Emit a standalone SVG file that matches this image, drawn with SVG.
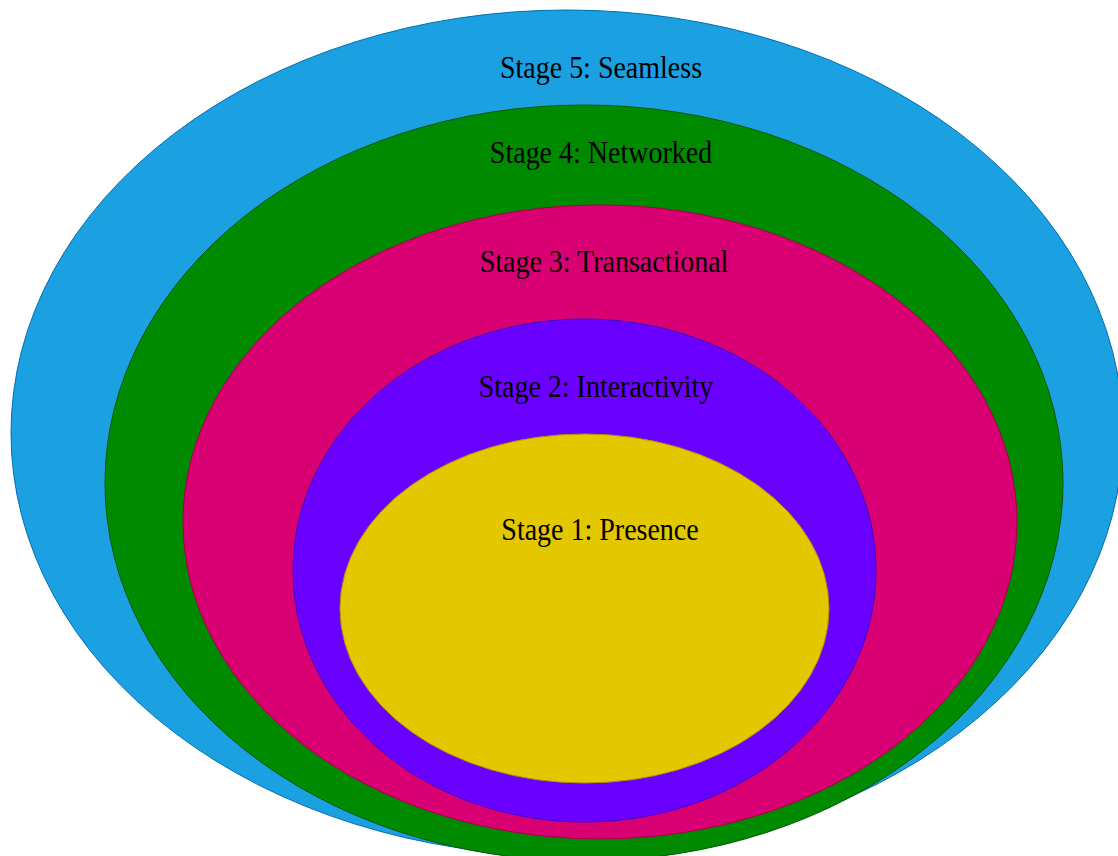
<svg xmlns="http://www.w3.org/2000/svg" width="1118" height="856" viewBox="0 0 1118 856">
  <style>
    .stage { stroke-width: 1; }
    .label { font-family: "Liberation Serif", "Times New Roman", serif; font-size: 28px; fill: #000000; text-anchor: middle; }
  </style>
  <rect x="0" y="0" width="1118" height="856" fill="#ffffff"/>
  <!-- Nested stages, outermost first -->
  <g id="stage5">
    <ellipse class="stage" cx="567" cy="433" rx="556" ry="423" fill="#1ba1e2" stroke="#006eaf"/>
    <text class="label" transform="translate(601,78) scale(1,1.13)">Stage 5: Seamless</text>
  </g>
  <g id="stage4">
    <ellipse class="stage" cx="584" cy="483" rx="479" ry="378" fill="#008a00" stroke="#005700"/>
    <text class="label" transform="translate(601,163) scale(1,1.13)">Stage 4: Networked</text>
  </g>
  <g id="stage3">
    <ellipse class="stage" cx="600" cy="522" rx="417" ry="317" fill="#d80073" stroke="#a50040"/>
    <text class="label" transform="translate(604,272) scale(1,1.13)">Stage 3: Transactional</text>
  </g>
  <g id="stage2">
    <ellipse class="stage" cx="584.5" cy="570.5" rx="291.5" ry="251.5" fill="#6a00ff" stroke="#3700cc"/>
    <text class="label" transform="translate(596,397) scale(1,1.13)">Stage 2: Interactivity</text>
  </g>
  <g id="stage1">
    <ellipse class="stage" cx="584.5" cy="608.5" rx="244.5" ry="174.5" fill="#e3c800" stroke="#b09500"/>
    <text class="label" transform="translate(600,540) scale(1,1.13)">Stage 1: Presence</text>
  </g>
  <g id="connectors"/>
</svg>
